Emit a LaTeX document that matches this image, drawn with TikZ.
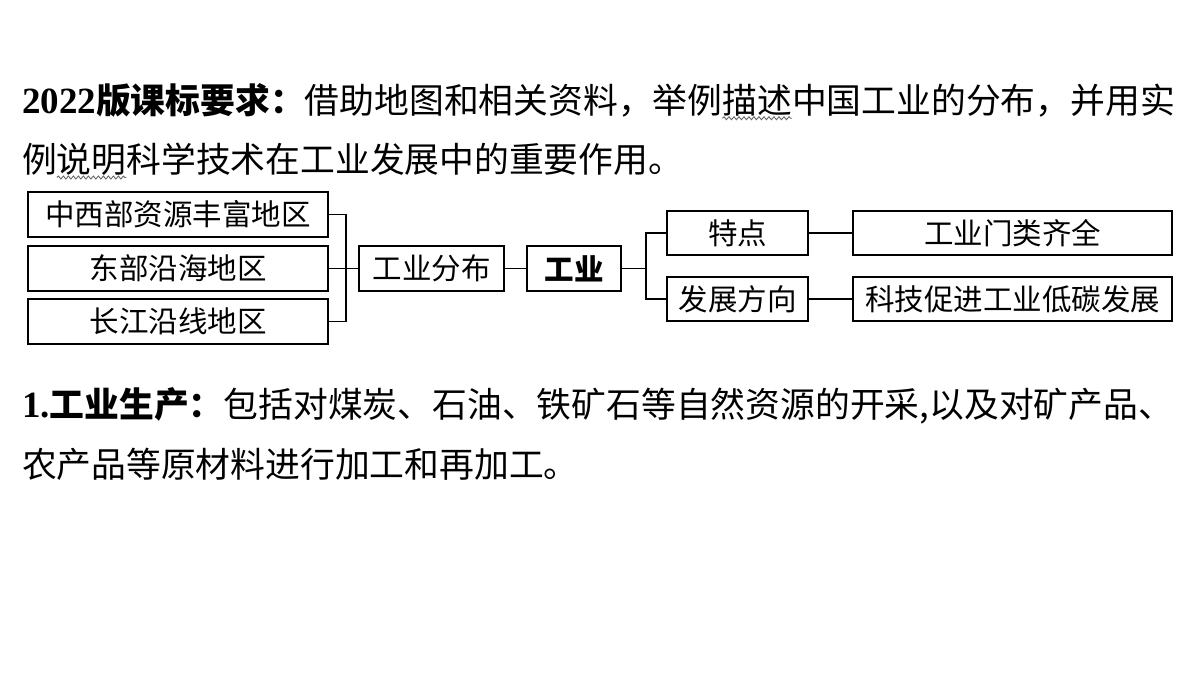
\documentclass[tikz,border=0pt]{standalone}
\usepackage{fontspec}
\setmainfont{Noto Sans CJK SC}
\newfontfamily\timesf{Liberation Serif}
\usetikzlibrary{decorations.pathmorphing}
\begin{document}
\begin{tikzpicture}[x=1pt,y=-1pt,
  txt/.style={inner sep=0pt, outer sep=0pt, anchor=base west, font=\fontsize{34.8}{42}\selectfont},
  box/.style={draw, line width=1.9pt, inner sep=0pt, outer sep=0pt, font=\fontsize{29.5}{35}\selectfont, align=center},
  link/.style={line width=1.9pt},
  wavy/.style={decorate, decoration={snake, amplitude=1.5pt, segment length=5pt}, line width=0.9pt, black!60}
]
\useasboundingbox (0,0) rectangle (1200,675);
% heading text
\node[txt] (t1) at (22,113) {\timesf\bfseries\fontsize{37}{42}\selectfont 2022};
\node[txt] (t2) at (t1.base east) {\bfseries 版课标要求：};
\node[txt] (t3) at (t2.base east) {借助地图和相关资料，举例};
\node[txt] (ms) at (t3.base east) {描述};
\node[txt] (t4) at (ms.base east) {中国工业的分布，并用实};
\node[txt] (u1) at (22,172) {例};
\node[txt] (sm) at (u1.base east) {说明};
\node[txt] (u2) at (sm.base east) {科学技术在工业发展中的重要作用。};
\draw[wavy] ([yshift=-2.5pt]ms.south west) -- ([yshift=-2.5pt]ms.south east);
\draw[wavy] ([yshift=-2.5pt]sm.south west) -- ([yshift=-2.5pt]sm.south east);
% boxes
\node[box, minimum width=300pt, minimum height=45pt] (A) at (178,214.5) {中西部资源丰富地区};
\node[box, minimum width=300pt, minimum height=45pt] (B) at (178,268.5) {东部沿海地区};
\node[box, minimum width=300pt, minimum height=45pt] (C) at (178,321.5) {长江沿线地区};
\node[box, minimum width=145pt, minimum height=45pt] (D) at (431.5,268.5) {工业分布};
\node[box, minimum width=94pt, minimum height=45pt] (E) at (574,268.5) {\bfseries 工业};
\node[box, minimum width=141pt, minimum height=44pt] (F) at (737.5,233) {特点};
\node[box, minimum width=141pt, minimum height=44pt] (G) at (737.5,299) {发展方向};
\node[box, minimum width=319pt, minimum height=44pt] (H) at (1012.5,233) {工业门类齐全};
\node[box, minimum width=319pt, minimum height=44pt] (I) at (1012.5,299) {科技促进工业低碳发展};
% connectors
\coordinate (j1) at (346,268.5);
\coordinate (j2) at (646,268.5);
\draw[link] (A.east) -| (j1);
\draw[link] (C.east) -| (j1);
\draw[link] (B.east) -- (D.west);
\draw[link] (D.east) -- (E.west);
\draw[link] (E.east) -- (j2);
\draw[link] (j2) |- (F.west);
\draw[link] (j2) |- (G.west);
\draw[link] (F.east) -- (H.west);
\draw[link] (G.east) -- (I.west);
% body text
\node[txt] (p1) at (22,417) {\timesf\bfseries\fontsize{37}{42}\selectfont 1.};
\node[txt] (p2) at (p1.base east) {\bfseries 工业生产：};
\node[txt] (p3) at (p2.base east) {包括对煤炭、石油、铁矿石等自然资源的开采,以及对矿产品、};
\node[txt] (q1) at (22,477) {农产品等原材料进行加工和再加工。};
\end{tikzpicture}
\end{document}
